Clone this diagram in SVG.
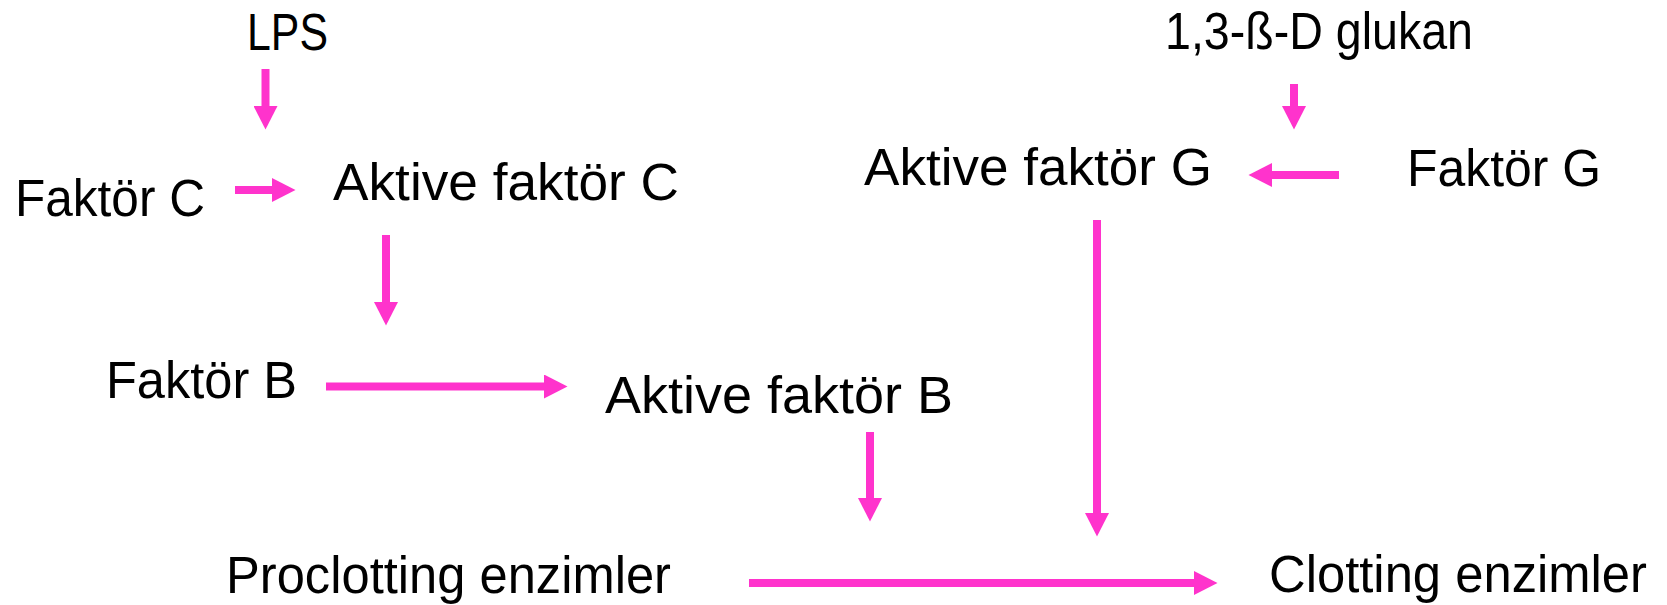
<svg xmlns="http://www.w3.org/2000/svg" width="1667" height="605" viewBox="0 0 1667 605">
<defs>
<style>
.t{font-family:"Liberation Sans",Arial,sans-serif;font-size:51px;fill:#000}
.c{stroke:#FF33CC;stroke-width:8;fill:none;marker-end:url(#ah)}
</style>
<marker id="ah" markerUnits="userSpaceOnUse" markerWidth="24" markerHeight="24" refX="0" refY="12" orient="auto" viewBox="0 0 24 24">
<path d="M0,0 L23.5,12 L0,24 z" fill="#FF33CC"/>
</marker>
</defs>
<rect width="1667" height="605" fill="#fff"/>
<g id="connectors">
<line class="c" x1="265.5" y1="69" x2="265.5" y2="106"/>
<line class="c" x1="235" y1="190" x2="272" y2="190"/>
<line class="c" x1="386" y1="235" x2="386" y2="302"/>
<line class="c" x1="326" y1="386.5" x2="544" y2="386.5"/>
<line class="c" x1="870" y1="432" x2="870" y2="498"/>
<line class="c" x1="1097" y1="220" x2="1097" y2="513"/>
<line class="c" x1="749" y1="583" x2="1194" y2="583"/>
<line class="c" x1="1294" y1="84" x2="1294" y2="106"/>
<line class="c" x1="1339" y1="175" x2="1272" y2="175"/>
</g>
<g id="lps"><text class="t" x="247" y="50" textLength="81" lengthAdjust="spacingAndGlyphs">LPS</text></g>
<g id="glukan"><text class="t" x="1165" y="49" textLength="308" lengthAdjust="spacingAndGlyphs">1,3-ß-D glukan</text></g>
<g id="faktorC"><text class="t" x="15" y="216" textLength="190" lengthAdjust="spacingAndGlyphs">Faktör C</text></g>
<g id="aktiveC"><text class="t" x="333" y="200" textLength="346" lengthAdjust="spacingAndGlyphs">Aktive faktör C</text></g>
<g id="aktiveG"><text class="t" x="864" y="185" textLength="348" lengthAdjust="spacingAndGlyphs">Aktive faktör G</text></g>
<g id="faktorG"><text class="t" x="1407" y="186" textLength="194" lengthAdjust="spacingAndGlyphs">Faktör G</text></g>
<g id="faktorB"><text class="t" x="106" y="398" textLength="191" lengthAdjust="spacingAndGlyphs">Faktör B</text></g>
<g id="aktiveB"><text class="t" x="605" y="413" textLength="348" lengthAdjust="spacingAndGlyphs">Aktive faktör B</text></g>
<g id="proclotting"><text class="t" x="226" y="593" textLength="445" lengthAdjust="spacingAndGlyphs">Proclotting enzimler</text></g>
<g id="clotting"><text class="t" x="1269" y="592" textLength="378" lengthAdjust="spacingAndGlyphs">Clotting enzimler</text></g>
</svg>
